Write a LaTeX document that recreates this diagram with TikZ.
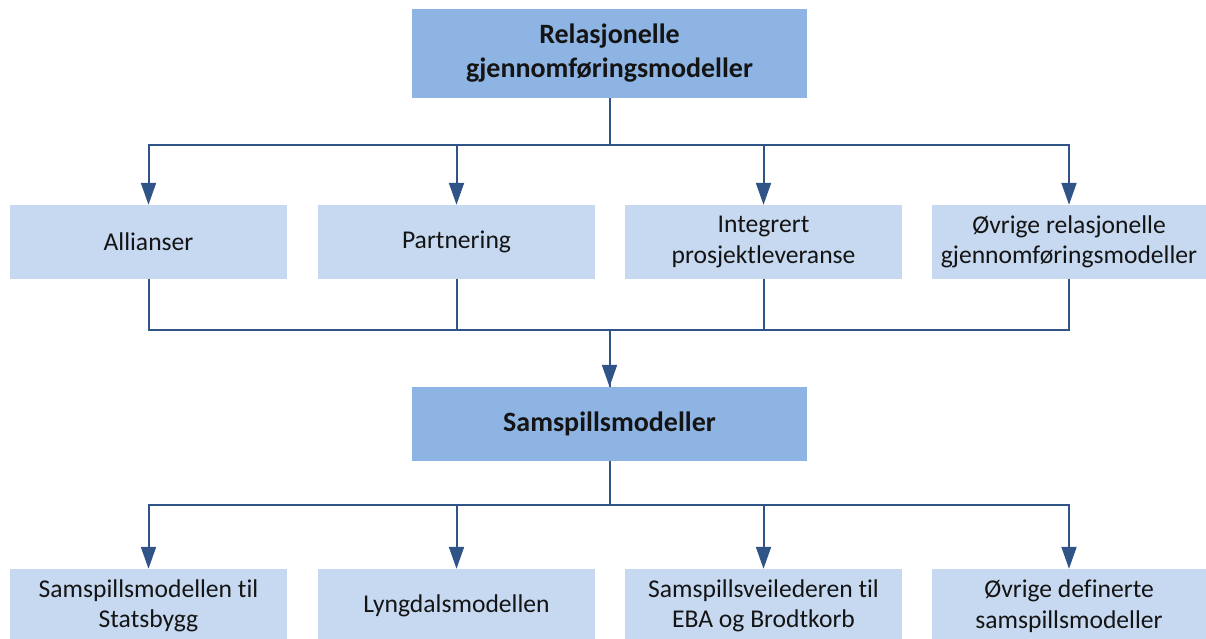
\documentclass[tikz,border=0pt]{standalone}
\usepackage{fontspec}
\setmainfont{Carlito}[Ligatures={NoCommon}]
\usetikzlibrary{arrows.meta}

\definecolor{headfill}{RGB}{142,180,227}
\definecolor{itemfill}{RGB}{198,217,241}
\definecolor{linkblue}{RGB}{48,84,135}
\definecolor{textdark}{RGB}{20,20,20}

\tikzset{
  headbox/.style={fill=headfill, draw=none, minimum width=395pt, minimum height=#1,
    inner sep=0pt, align=center, text=textdark,
    font=\fontsize{28}{34}\selectfont\bfseries},
  headbox/.default=74pt,
  itembox/.style={fill=itemfill, draw=none, minimum width=#1, minimum height=74pt,
    inner sep=0pt, align=center, text=textdark,
    font=\fontsize{25.6}{30.5}\selectfont},
  itembox/.default=277pt,
  link/.style={draw=linkblue, line width=2pt},
  linkarrow/.style={link, -{Triangle[width=15pt,length=22pt]}},
}

\begin{document}
\begin{tikzpicture}[x=1pt, y=-1pt]
  \useasboundingbox (0,0) rectangle (1206,639);
  \clip (0,0) rectangle (1206,639);

  % upper level
  \node[headbox=89pt] (rel) at (609.5,53.5) {Relasjonelle\\gjennomføringsmodeller};

  \node[itembox] (all) at (148.5,242) {Allianser};
  \node[itembox] (par) at (456.5,242) {Partnering};
  \node[itembox] (ipl) at (763.5,242) {Integrert\\prosjektleveranse};
  \node[itembox=274pt] (ovr) at (1069,242) {Øvrige relasjonelle\\gjennomføringsmodeller};

  % middle level
  \node[headbox] (sam) at (609.5,424) {Samspillsmodeller};

  % lower level
  \node[itembox] (sta) at (148.5,606) {Samspillsmodellen til\\Statsbygg};
  \node[itembox] (lyn) at (456.5,606) {Lyngdalsmodellen};
  \node[itembox] (eba) at (763.5,606) {Samspillsveilederen til\\EBA og Brodtkorb};
  \node[itembox=274pt] (ovd) at (1069,606) {Øvrige definerte\\samspillsmodeller};

  % fan-out from the top box
  \foreach \c in {all,par,ipl,ovr}
    \draw[linkarrow] (rel.south) -- ++(0,47) -| (\c.north);

  % merge into the middle box
  \foreach \c in {all,par,ipl}
    \draw[link] (\c.south) -- ++(0,51) -| (sam.north);
  \draw[linkarrow] (ovr.south) -- ++(0,51) -| (sam.north);

  % fan-out from the middle box
  \foreach \c in {sta,lyn,eba,ovd}
    \draw[linkarrow] (sam.south) -- ++(0,44) -| (\c.north);
\end{tikzpicture}
\end{document}
